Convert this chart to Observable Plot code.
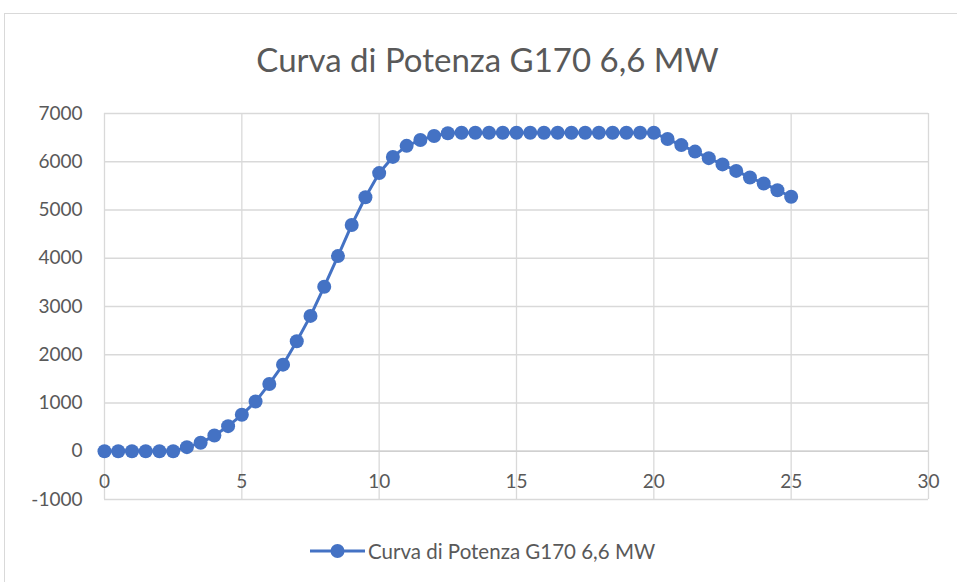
<!DOCTYPE html>
<html>
<head>
<meta charset="utf-8">
<script src="https://cdn.jsdelivr.net/npm/d3@7"></script>
<script src="https://cdn.jsdelivr.net/npm/@observablehq/plot@0.6"></script>
<style>
  html, body { margin: 0; padding: 0; background: #fff; width: 957px; height: 582px; overflow: hidden; font-family: Lato, "Open Sans", sans-serif; }
  #frame { position: absolute; left: 4px; top: 13px; width: 1000px; height: 700px; border: 1px solid #d9d9d9; box-sizing: border-box; }
  #title { position: absolute; left: 0; width: 975px; top: 39px; text-align: center; font-size: 33px; color: #595959; white-space: nowrap; }
  #chart { position: absolute; left: 0; top: 0; }
  #legend { position: absolute; left: 310px; top: 539px; height: 24px; display: flex; align-items: center; color: #595959; font-size: 20.5px; white-space: nowrap; }
  #legend svg { margin-right: 3px; }
</style>
</head>
<body>
<div id="frame"></div>
<div id="chart"></div>
<div id="title">Curva di Potenza G170 6,6 MW</div>
<div id="legend"></div>
<script>
const seriesName = "Curva di Potenza G170 6,6 MW";
const windSpeed = [0, 0.5, 1, 1.5, 2, 2.5, 3, 3.5, 4, 4.5, 5, 5.5, 6, 6.5, 7, 7.5, 8, 8.5, 9, 9.5, 10,
  10.5, 11, 11.5, 12, 12.5, 13, 13.5, 14, 14.5, 15, 15.5, 16, 16.5, 17, 17.5, 18, 18.5, 19, 19.5, 20,
  20.5, 21, 21.5, 22, 22.5, 23, 23.5, 24, 24.5, 25];
const power = [0, 0, 0, 0, 0, 0, 85, 175, 325, 520, 755, 1030, 1395, 1795, 2280, 2805, 3410, 4045, 4690, 5265, 5765,
  6100, 6330, 6450, 6535, 6590, 6600, 6600, 6600, 6600, 6600, 6600, 6600, 6600, 6600, 6600, 6600, 6600, 6600, 6600, 6600,
  6470, 6345, 6210, 6075, 5945, 5810, 5675, 5550, 5410, 5275];
const xTicks = [0, 5, 10, 15, 20, 25, 30];
const yTicks = [-1000, 0, 1000, 2000, 3000, 4000, 5000, 6000, 7000];

const data = windSpeed.map((x, i) => ({x, y: power[i]}));
const blue = "#4472C4";
const grid = "#d9d9d9";
const txt = "#595959";

const chart = Plot.plot({
  width: 957,
  height: 582,
  marginLeft: 104,
  marginRight: 29,
  marginTop: 113,
  marginBottom: 83,
  style: {fontFamily: "Lato, 'Open Sans', sans-serif", background: "transparent"},
  x: {domain: [0, 30], axis: null},
  y: {domain: [-1000, 7000], axis: null},
  marks: [
    Plot.ruleY(yTicks, {stroke: grid, strokeWidth: 1.3}),
    Plot.ruleX(xTicks, {y1: -1000, y2: 7000, stroke: grid, strokeWidth: 1.3}),
    Plot.ruleY([0], {stroke: "#d0d0d0", strokeWidth: 1.3}),
    Plot.text(yTicks, {x: 0, y: d => d, text: d => String(d), textAnchor: "end", dx: -22, fill: txt, fontSize: 19}),
    Plot.text(xTicks, {x: d => d, y: 0, text: d => String(d), dy: 31, fill: txt, fontSize: 19}),
    Plot.line(data, {x: "x", y: "y", stroke: blue, strokeWidth: 3}),
    Plot.dot(data, {x: "x", y: "y", r: 7, fill: blue, stroke: "none"})
  ]
});
document.getElementById("chart").appendChild(chart);

const legend = document.getElementById("legend");
const sw = d3.create("svg").attr("width", 55).attr("height", 16);
sw.append("line").attr("x1", 0).attr("x2", 55).attr("y1", 8).attr("y2", 8).attr("stroke", blue).attr("stroke-width", 3);
sw.append("circle").attr("cx", 27.5).attr("cy", 8).attr("r", 7).attr("fill", blue);
legend.appendChild(sw.node());
const lt = document.createElement("span");
lt.textContent = seriesName;
legend.appendChild(lt);
</script>
</body>
</html>
